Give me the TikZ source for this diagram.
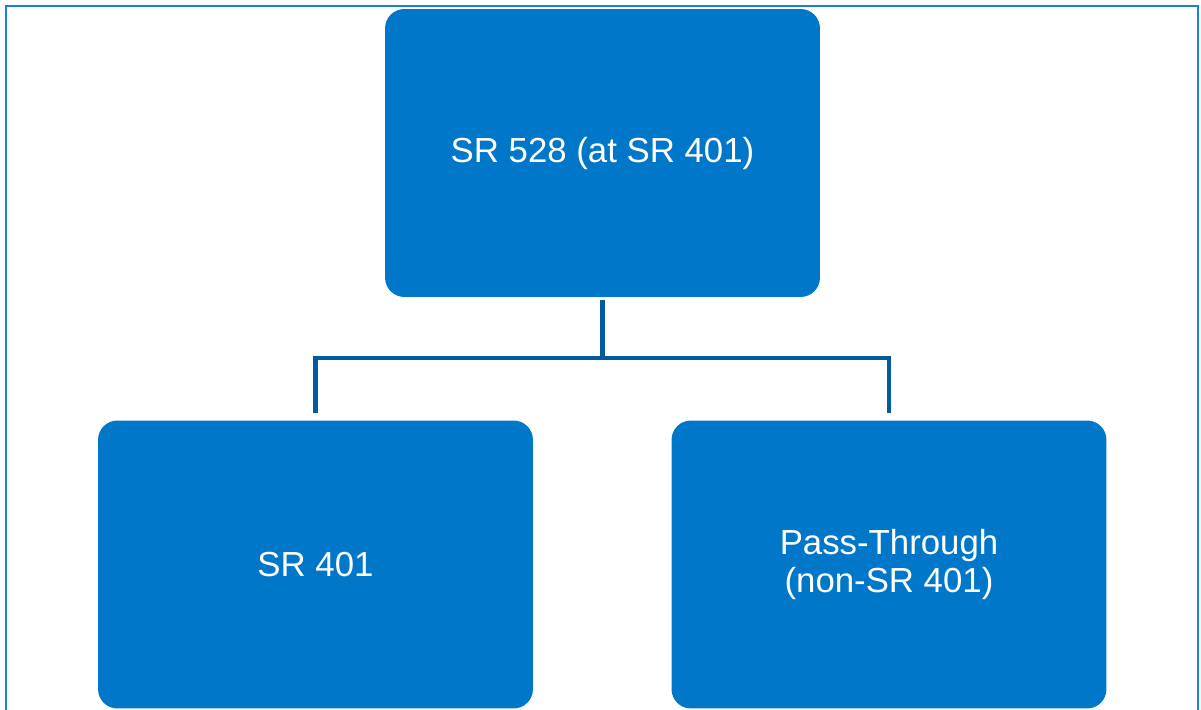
\documentclass[tikz,border=0pt]{standalone}
\usepackage{fontspec}
\setmainfont{Liberation Sans}
\definecolor{boxblue}{HTML}{0077C8}
\definecolor{linkblue}{HTML}{005C9E}
\definecolor{frameblue}{HTML}{1A80D2}
\tikzset{
  unit/.style={rectangle, rounded corners=11pt, fill=boxblue, draw=none,
    minimum width=8.7cm, minimum height=5.76cm, inner sep=0pt,
    text=white, align=center, font=\fontsize{19.8}{21.5}\selectfont},
  link/.style={linkblue, line width=2.3pt}
}
\begin{document}
\begin{tikzpicture}[x=0.02cm, y=-0.02cm]
  \useasboundingbox (0,0) rectangle (1201,710);
  % outer frame
  \draw[frameblue, line width=1.2pt] (6,710) -- (6,6) -- (1198,6) -- (1198,710);

  % boxes
  \node[unit] (sr528) at (602.5,153) {SR 528 (at SR 401)};
  \node[unit] (sr401) at (315.5,564.5) {SR 401};
  \node[unit] (pass) at (889,564.5) {Pass-Through\\(non-SR 401)};

  % connectors
  \coordinate (split) at (602.5,358);
  \draw[link, shorten <=1.7pt] (sr528.south) -- ([yshift=-1.15pt]split);
  \draw[link, shorten <=4pt, shorten >=4pt] (sr401.north) |- (split) -| (pass.north);
\end{tikzpicture}
\end{document}
